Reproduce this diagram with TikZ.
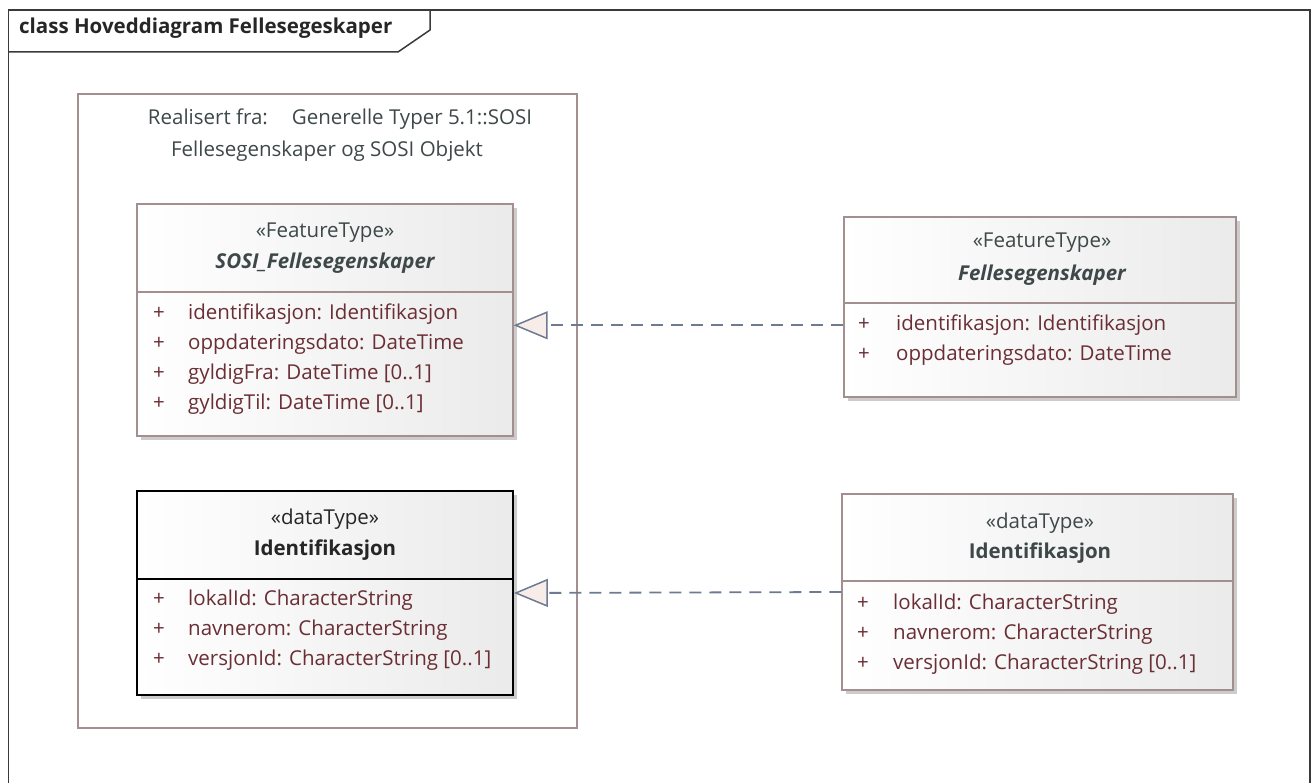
\documentclass[tikz,border=0pt]{standalone}
\usepackage{fontspec}
\setmainfont{Open Sans}
\usetikzlibrary{arrows.meta,shadows}

\definecolor{umlborder}{HTML}{A38F8F}
\definecolor{umltext}{HTML}{3E4848}
\definecolor{attrtext}{HTML}{6A2E34}
\definecolor{linkcol}{HTML}{6C7A92}
\definecolor{tipfill}{HTML}{F8ECE8}
\definecolor{framecol}{HTML}{3A3A3A}

\tikzset{
  classbox/.style={draw=umlborder, line width=1.3pt, inner sep=0pt,
    left color=white, right color=black!8,
    drop shadow={shadow xshift=4pt, shadow yshift=-4pt, fill=black!20, opacity=1}},
  stereo/.style={text=umltext, inner sep=0pt, font=\fontsize{20.5}{24}\selectfont},
  cname/.style={text=umltext, inner sep=0pt, font=\fontsize{20.5}{24}\selectfont\bfseries},
  attr/.style={text=attrtext, anchor=mid west, inner sep=0pt, font=\fontsize{20.5}{24}\selectfont},
  realize/.style={draw=linkcol, line width=1.8pt, dash pattern=on 12pt off 8pt,
    -{Triangle[length=34pt, width=28pt, fill=tipfill, line width=1.5pt]}}
}

\begin{document}
\begin{tikzpicture}[x=1pt,y=-1pt]
\useasboundingbox (0,0) rectangle (1314,783);

% diagram frame
\draw[framecol, line width=1.5pt] (8.5,790) -- (8.5,10) -- (1310,10) -- (1310,790);
\draw[framecol, line width=1.5pt] (8.5,52) -- (398,52) -- (430,30) -- (430,10);
\node[anchor=mid west, inner sep=0pt, text=black!85, font=\fontsize{20.5}{24}\selectfont\bfseries] (title) at (19,31) {class Hoveddiagram Fellesegeskaper};

% realisation boundary
\draw[umlborder, line width=1.3pt] (78,94) rectangle (577,728);
\node[stereo] (pkg-l1) at (340,119) {Realisert fra:\hspace{24pt}Generelle Typer 5.1::SOSI};
\node[stereo] (pkg-l2) at (327,151) {Fellesegenskaper og SOSI Objekt};

% SOSI_Fellesegenskaper
\node[classbox, minimum width=376pt, minimum height=232pt] (sosi) at (325,320) {};
\draw[umlborder, line width=1.3pt] (sosi.west |- 0,292) -- (sosi.east |- 0,292);
\node[stereo] (sosi-st) at (325,233) {«FeatureType»};
\node[cname, font=\fontsize{20.5}{24}\selectfont\bfseries\itshape] (sosi-nm) at (325,263) {SOSI\_Fellesegenskaper};
\foreach \t [count=\i] in {identifikasjon: Identifikasjon, oppdateringsdato: DateTime, gyldigFra: DateTime [0..1], gyldigTil: DateTime [0..1]}{
  \node[attr] (sosi-p\i) at (153,287+30*\i) {+};
  \node[attr] (sosi-a\i) at (188,287+30*\i) {\t};
}

% Identifikasjon (inside)
\node[classbox, draw=black, line width=1.8pt, minimum width=376pt, minimum height=204pt] (identL) at (325,593) {};
\draw[black, line width=1.8pt] (identL.west |- 0,579) -- (identL.east |- 0,579);
\node[stereo, text=black!85] (identL-st) at (325,519) {«dataType»};
\node[cname, text=black!85] (identL-nm) at (325,550) {Identifikasjon};
\foreach \t [count=\i] in {lokalId: CharacterString, navnerom: CharacterString, versjonId: CharacterString [0..1]}{
  \node[attr] (identL-p\i) at (153,573+30*\i) {+};
  \node[attr] (identL-a\i) at (188,573+30*\i) {\t};
}

% Fellesegenskaper
\node[classbox, minimum width=392pt, minimum height=180pt] (felles) at (1040,307) {};
\draw[umlborder, line width=1.3pt] (felles.west |- 0,303) -- (felles.east |- 0,303);
\node[stereo] (felles-st) at (1042,243) {«FeatureType»};
\node[cname, font=\fontsize{20.5}{24}\selectfont\bfseries\itshape] (felles-nm) at (1042,275) {Fellesegenskaper};
\foreach \t [count=\i] in {identifikasjon: Identifikasjon, oppdateringsdato: DateTime}{
  \node[attr] (felles-p\i) at (858,298+30*\i) {+};
  \node[attr] (felles-a\i) at (896,298+30*\i) {\t};
}

% Identifikasjon (outside)
\node[classbox, minimum width=391pt, minimum height=196pt] (identR) at (1037.5,592) {};
\draw[umlborder, line width=1.3pt] (identR.west |- 0,581) -- (identR.east |- 0,581);
\node[stereo] (identR-st) at (1040,523) {«dataType»};
\node[cname] (identR-nm) at (1040,553) {Identifikasjon};
\foreach \t [count=\i] in {lokalId: CharacterString, navnerom: CharacterString, versjonId: CharacterString [0..1]}{
  \node[attr] (identR-p\i) at (857,577+30*\i) {+};
  \node[attr] (identR-a\i) at (893,577+30*\i) {\t};
}

% realisations
\draw[realize] (felles.west |- felles-a1) -- (sosi.east |- felles-a1);
\draw[realize] (identR.west) -- (identL.east);
\end{tikzpicture}
\end{document}
